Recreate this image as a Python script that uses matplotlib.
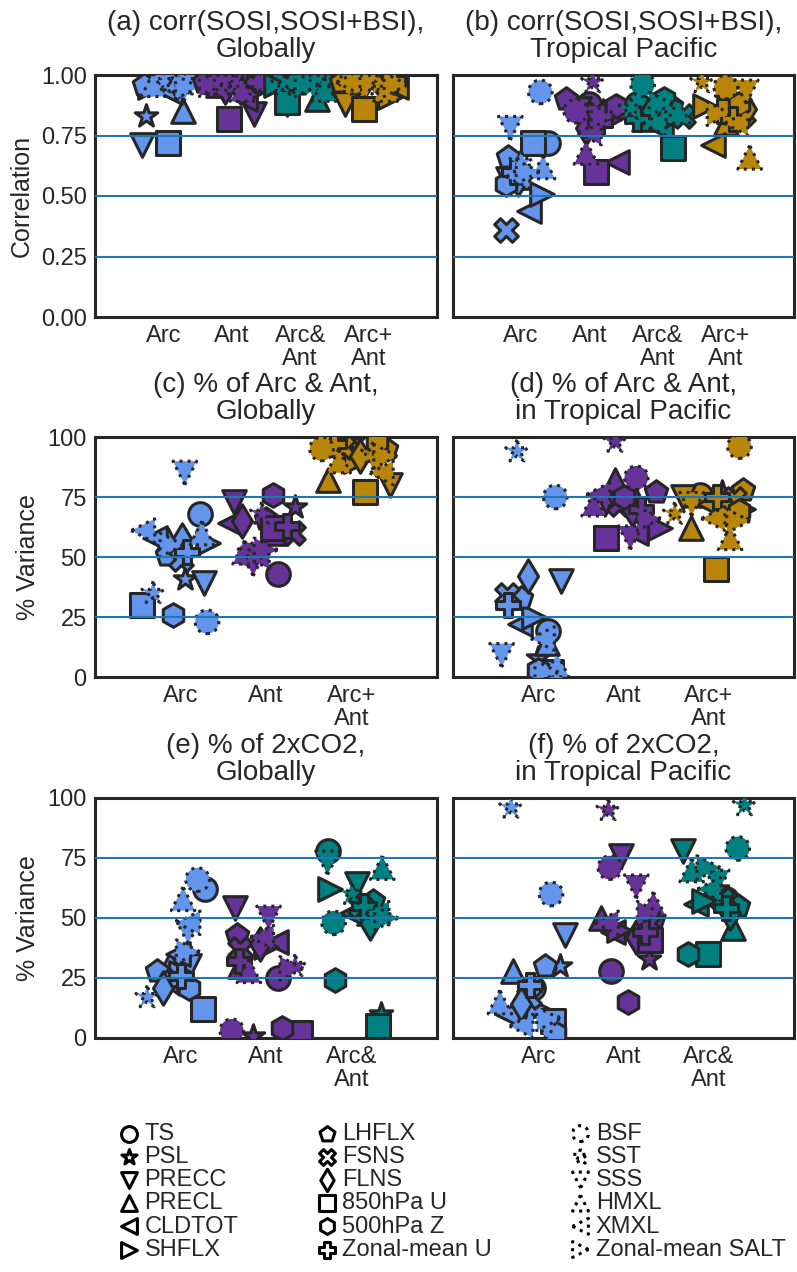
import numpy as np
import matplotlib.pyplot as plt

plt.rcParams['font.family'] = ['Liberation Sans', 'DejaVu Sans']
plt.rcParams['text.color'] = '#262626'
plt.rcParams['axes.labelcolor'] = '#262626'
plt.rcParams['xtick.color'] = '#262626'
plt.rcParams['ytick.color'] = '#262626'

# ---------------- DATA ----------------
variables = ["TS", "PSL", "PRECC", "PRECL", "CLDTOT", "SHFLX", "LHFLX", "FSNS", "FLNS",
             "850hPa U", "500hPa Z", "Zonal-mean U",
             "BSF", "SST", "SSS", "HMXL", "XMXL", "Zonal-mean SALT"]
markers = ['o', '*', 'v', '^', '<', '>', 'p', 'X', 'd', 's', 'h', 'P',
           'o', '*', 'v', '^', '<', '>']
is_ocean = [False] * 12 + [True] * 6

cat_colors = {"Arc": "#6495ED", "Ant": "#663399", "Arc&Ant": "#008080", "Arc+Ant": "#B8860B"}
cat_ticks = {"Arc": "Arc", "Ant": "Ant", "Arc&Ant": "Arc&\nAnt", "Arc+Ant": "Arc+\nAnt"}

# (a) corr(SOSI,SOSI+BSI), globally
a_cats = ["Arc", "Ant", "Arc&Ant", "Arc+Ant"]
a_vals = [
    [0.97, 0.83, 0.71, 0.85, 0.93, 0.95, 0.96, 0.98, 0.97, 0.72, 0.98, 0.99, 0.98, 0.97, 0.94, 0.96, 0.97, 0.95],
    [0.97, 0.98, 0.84, 0.96, 0.90, 0.93, 0.97, 0.98, 0.95, 0.82, 0.99, 0.98, 0.97, 0.96, 0.95, 0.94, 0.97, 0.96],
    [0.97, 0.98, 0.88, 0.90, 0.95, 0.96, 0.97, 0.98, 0.96, 0.89, 0.99, 0.98, 0.97, 0.96, 0.95, 0.94, 0.97, 0.96],
    [0.97, 0.98, 0.88, 0.96, 0.95, 0.91, 0.97, 0.98, 0.96, 0.86, 0.99, 0.98, 0.97, 0.96, 0.95, 0.94, 0.97, 0.96],
]
a_jit = [
    [-0.10, -0.25, -0.31, 0.28, 0.10, -0.20, -0.29, 0.05, 0.20, 0.06, -0.05, 0.30, 0.15, 0.00, 0.30, -0.15, 0.25, 0.35],
    [-0.35, 0.10, 0.33, -0.20, 0.20, 0.30, -0.40, 0.25, -0.10, -0.04, 0.00, 0.40, -0.25, 0.05, -0.15, 0.15, 0.35, -0.30],
    [-0.30, 0.10, -0.20, 0.24, 0.30, -0.35, 0.00, 0.15, -0.10, -0.20, 0.30, -0.05, 0.05, -0.25, 0.20, 0.35, -0.15, 0.10],
    [-0.20, 0.10, -0.35, 0.30, 0.40, 0.31, -0.40, 0.20, -0.10, -0.07, 0.00, 0.35, -0.25, 0.15, -0.05, 0.25, -0.30, 0.40],
]

# (b) corr(SOSI,SOSI+BSI), tropical Pacific
b_cats = ["Arc", "Ant", "Arc&Ant", "Arc+Ant"]
b_vals = [
    [0.72, 0.60, 0.57, 0.58, 0.44, 0.51, 0.66, 0.36, 0.57, 0.72, 0.55, 0.60, 0.93, 0.64, 0.78, 0.62, 0.58, 0.60],
    [0.88, 0.80, 0.86, 0.85, 0.64, 0.82, 0.90, 0.84, 0.78, 0.60, 0.87, 0.80, 0.85, 0.97, 0.80, 0.68, 0.76, 0.83],
    [0.88, 0.85, 0.80, 0.82, 0.78, 0.83, 0.87, 0.83, 0.85, 0.70, 0.90, 0.82, 0.96, 0.86, 0.84, 0.85, 0.80, 0.88],
    [0.88, 0.90, 0.85, 0.80, 0.71, 0.87, 0.87, 0.84, 0.86, 0.85, 0.88, 0.82, 0.95, 0.97, 0.93, 0.66, 0.80, 0.84],
]
b_jit = [
    [0.39, -0.10, -0.20, 0.00, 0.12, 0.30, -0.19, -0.23, -0.05, 0.17, -0.22, -0.10, 0.28, 0.00, -0.16, 0.32, -0.05, 0.10],
    [0.00, 0.05, -0.15, 0.20, 0.40, 0.30, -0.34, 0.10, -0.05, 0.10, 0.39, 0.15, -0.20, 0.05, 0.15, -0.05, 0.00, 0.20],
    [-0.30, 0.00, 0.10, -0.20, 0.05, 0.25, 0.20, 0.37, -0.10, 0.22, 0.10, -0.30, -0.22, -0.40, 0.15, 0.30, -0.05, 0.05],
    [0.10, 0.00, 0.20, 0.00, -0.19, -0.31, 0.15, 0.25, 0.30, 0.05, 0.20, 0.10, 0.00, -0.35, 0.30, 0.35, 0.15, -0.10],
]

# (c) % of Arc & Ant, globally
c_cats = ["Arc", "Ant", "Arc+Ant"]
c_vals = [
    [68, 41, 39, 57, 58, 56, 51, 49, 57, 30, 26, 52, 23, 35, 85, 60, 61, 55],
    [43, 71, 73, 60, 64, 62, 66, 60, 65, 62, 76, 63, 51, 68, 47, 52, 50, 53],
    [97, 98, 80, 82, 93, 90, 95, 96, 92, 77, 98, 97, 95, 93, 88, 90, 85, 92],
]
c_jit = [
    [0.23, 0.05, 0.27, -0.15, -0.30, 0.32, -0.16, 0.00, 0.02, -0.45, -0.09, 0.08, 0.31, -0.32, 0.05, 0.25, -0.44, -0.10],
    [0.14, 0.34, -0.38, 0.10, -0.42, 0.20, 0.00, 0.32, -0.28, 0.08, 0.08, 0.25, -0.20, -0.05, -0.15, -0.25, -0.10, 0.00],
    [-0.30, 0.00, 0.45, -0.28, 0.20, 0.05, 0.40, -0.10, 0.10, 0.16, 0.30, -0.20, -0.35, 0.25, 0.30, -0.15, 0.35, 0.40],
]

# (d) % of Arc & Ant, tropical Pacific
d_cats = ["Arc", "Ant", "Arc+Ant"]
d_vals = [
    [19, 8, 40, 14, 22, 25, 33, 34, 42, 2, 3, 30, 75, 94, 9, 5, 16, 2],
    [74, 78, 73, 82, 60, 62, 77, 72, 70, 58, 75, 70, 83, 98, 58, 72, 76, 66],
    [76, 77, 75, 62, 72, 70, 78, 74, 70, 45, 69, 75, 96, 68, 72, 58, 66, 65],
]
d_jit = [
    [0.12, 0.00, 0.27, 0.10, -0.21, -0.05, -0.20, -0.37, -0.12, 0.15, 0.00, -0.35, 0.20, -0.25, -0.43, 0.22, 0.05, 0.10],
    [0.05, -0.10, -0.20, -0.10, 0.15, 0.43, 0.38, -0.05, 0.10, -0.20, 0.00, 0.20, 0.15, -0.10, 0.08, -0.35, -0.30, 0.30],
    [-0.10, 0.15, -0.30, -0.21, 0.00, 0.40, 0.40, 0.30, 0.20, 0.08, 0.36, 0.10, 0.36, -0.40, -0.20, 0.25, 0.05, 0.35],
]

# (e) % of 2xCO2, globally
e_cats = ["Arc", "Ant", "Arc&Ant"]
e_vals = [
    [62, 22, 30, 31, 35, 27, 28, 24, 21, 12, 21, 26, 66, 17, 44, 58, 48, 36],
    [25, 1, 54, 30, 40, 38, 43, 37, 39, 2, 4, 32, 3, 30, 50, 28, 42, 29],
    [78, 10, 64, 52, 52, 62, 57, 55, 48, 5, 24, 55, 48, 60, 73, 71, 52, 50],
]
e_jit = [
    [0.29, -0.10, 0.10, -0.12, -0.03, 0.00, -0.28, -0.06, -0.20, 0.26, 0.10, 0.00, 0.20, -0.39, 0.09, 0.03, 0.09, 0.09],
    [0.14, -0.15, -0.36, -0.30, 0.12, 0.00, -0.34, -0.30, -0.07, 0.40, 0.19, -0.32, -0.40, 0.34, 0.03, -0.20, -0.05, 0.30],
    [-0.28, 0.35, 0.07, 0.20, 0.00, -0.25, 0.25, 0.10, 0.22, 0.31, -0.19, 0.15, -0.21, 0.00, -0.28, 0.36, 0.30, 0.41],
]

# (f) % of 2xCO2, tropical Pacific
f_cats = ["Arc", "Ant", "Arc&Ant"]
f_vals = [
    [21, 30, 43, 28, 10, 12, 30, 17, 14, 7, 2, 22, 60, 96, 4, 15, 5, 8],
    [28, 33, 76, 50, 44, 45, 49, 48, 42, 41, 15, 44, 71, 95, 63, 56, 48, 52],
    [58, 62, 78, 46, 56, 57, 55, 58, 52, 35, 35, 54, 79, 97, 65, 70, 62, 71],
]
f_jit = [
    [-0.06, 0.26, 0.31, -0.30, -0.37, 0.00, 0.08, -0.11, -0.20, 0.17, 0.20, -0.10, 0.15, -0.32, 0.10, -0.45, -0.20, 0.12],
    [-0.15, 0.30, -0.03, -0.26, -0.12, -0.05, 0.35, 0.30, 0.15, 0.31, 0.05, 0.25, -0.16, -0.18, 0.15, 0.35, -0.20, 0.30],
    [0.20, 0.10, -0.30, 0.28, -0.15, -0.05, 0.34, 0.15, 0.25, -0.01, -0.24, 0.20, 0.34, 0.42, 0.10, -0.20, 0.00, 0.00],
]
# --------------------------------------

EDGE = '#262626'
MS = 290
LW = 2.2

W, H = 797, 1272
fig = plt.figure(figsize=(W / 100, H / 100), dpi=100)


def ax_at(x0, y0, x1, y1):
    return fig.add_axes([x0 / W, 1 - y1 / H, (x1 - x0) / W, (y1 - y0) / H])


panels = [
    (ax_at(95, 75, 437, 317), "(a) corr(SOSI,SOSI+BSI),\nGlobally", a_cats, a_vals, a_jit, True, "Correlation"),
    (ax_at(453, 75, 794, 317), "(b) corr(SOSI,SOSI+BSI),\nTropical Pacific", b_cats, b_vals, b_jit, True, None),
    (ax_at(95, 437, 437, 677), "(c) % of Arc & Ant,\nGlobally", c_cats, c_vals, c_jit, False, "% Variance"),
    (ax_at(453, 437, 794, 677), "(d) % of Arc & Ant,\nin Tropical Pacific", d_cats, d_vals, d_jit, False, None),
    (ax_at(95, 798, 437, 1038), "(e) % of 2xCO2,\nGlobally", e_cats, e_vals, e_jit, False, "% Variance"),
    (ax_at(453, 798, 794, 1038), "(f) % of 2xCO2,\nin Tropical Pacific", f_cats, f_vals, f_jit, False, None),
]

for ax, title, cats, vals, jit, is_corr, ylabel in panels:
    for i, cat in enumerate(cats):
        for j in range(len(variables)):
            ax.scatter(i + 1 + jit[i][j], vals[i][j], marker=markers[j], s=MS,
                       c=cat_colors[cat], edgecolors=EDGE, linewidths=LW,
                       linestyle=':' if is_ocean[j] else '-', zorder=3)
    top = 1.0 if is_corr else 100
    for frac in (0.25, 0.5, 0.75):
        ax.axhline(frac * top, color='#1f77b4', lw=1.5, zorder=4)
    ax.set_xlim(0, len(cats) + 1)
    ax.set_ylim(0, top)
    ax.set_xticks(range(1, len(cats) + 1))
    ax.set_xticklabels([cat_ticks[c] for c in cats], fontsize=17, linespacing=1.05)
    ax.set_yticks([0, 0.25 * top, 0.5 * top, 0.75 * top, top])
    if ylabel is None:
        ax.set_yticklabels([])
    else:
        if is_corr:
            ax.set_yticklabels(["0.00", "0.25", "0.50", "0.75", "1.00"], fontsize=17)
        else:
            ax.set_yticklabels(["0", "25", "50", "75", "100"], fontsize=17)
        ax.set_ylabel(ylabel, fontsize=18, labelpad=5)
    ax.tick_params(length=0, pad=6)
    ax.set_title(title, fontsize=20, linespacing=1.05, pad=13)
    for sp in ax.spines.values():
        sp.set_color(EDGE)
        sp.set_linewidth(2.2)

# legend with hollow markers
handles = []
for j, name in enumerate(variables):
    h = panels[0][0].scatter([], [], marker=markers[j], s=130, facecolors='white',
                             edgecolors='black', linewidths=2.2,
                             linestyle=':' if is_ocean[j] else '-', label=name)
    handles.append(h)
fig.legend(handles=handles, labels=variables, loc='upper left', ncol=3,
           bbox_to_anchor=(0.122, 0.134), frameon=False, fontsize=17,
           handlelength=0.9, handletextpad=0.2, columnspacing=3.3,
           labelspacing=0.05, scatterpoints=1)

fig.savefig("out.png", dpi=100)
